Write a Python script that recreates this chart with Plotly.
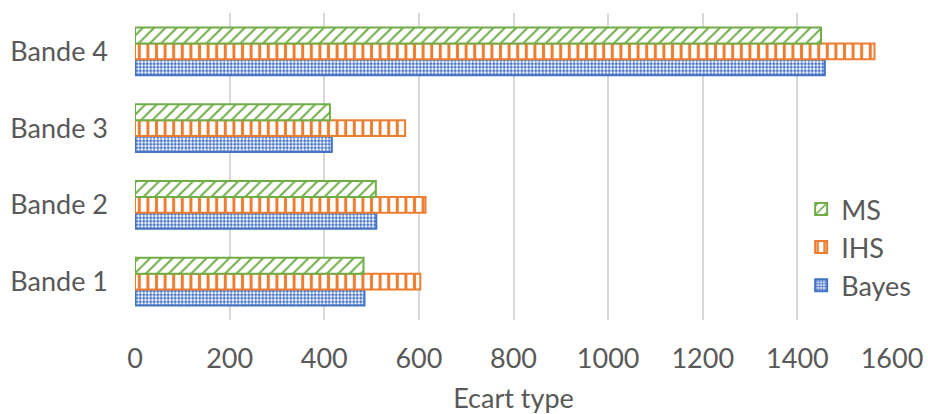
import plotly.graph_objects as go

categories = ["Bande 1", "Bande 2", "Bande 3", "Bande 4"]
bayes = [485, 510, 416, 1458]
ihs = [603, 614, 571, 1563]
ms = [483, 509, 412, 1450]

text_color = "#595959"
font_family = "Lato, 'Open Sans', sans-serif"
fs = 27

fig = go.Figure()

fig.add_trace(go.Bar(
    y=categories, x=bayes, name="Bayes", orientation="h",
    marker=dict(
        color="white",
        line=dict(color="#4472C4", width=2),
        pattern=dict(shape=".", fgcolor="#4472C4", bgcolor="white",
                     size=3.5, solidity=0.55, fillmode="replace"),
    ),
))
fig.add_trace(go.Bar(
    y=categories, x=ihs, name="IHS", orientation="h",
    marker=dict(
        color="white",
        line=dict(color="#ED7D31", width=2),
        pattern=dict(shape="|", fgcolor="#ED7D31", bgcolor="white",
                     size=8.6, solidity=0.35, fillmode="replace"),
    ),
))
fig.add_trace(go.Bar(
    y=categories, x=ms, name="MS", orientation="h",
    marker=dict(
        color="white",
        line=dict(color="#70AD47", width=2),
        pattern=dict(shape="/", fgcolor="#70AD47", bgcolor="white",
                     size=8, solidity=0.25, fillmode="replace"),
    ),
))

fig.update_layout(
    width=928, height=414,
    margin=dict(l=135, r=31, t=13, b=94),
    paper_bgcolor="white", plot_bgcolor="white",
    barmode="group", bargap=0.38, bargroupgap=0,
    font=dict(family=font_family, size=fs, color=text_color),
    legend=dict(
        x=0.88, y=0.44, xanchor="left", yanchor="top",
        traceorder="reversed", bgcolor="rgba(0,0,0,0)",
        font=dict(size=fs, color=text_color),
        itemwidth=30, tracegroupgap=0,
    ),
    xaxis=dict(
        range=[0, 1600], dtick=200, tick0=0, automargin=False,
        showgrid=True, gridcolor="#D9D9D9", gridwidth=1.5,
        zeroline=False, showline=False,
        ticks="", ticklabelstandoff=20,
        tickfont=dict(size=fs, color=text_color),
        title=dict(text="Ecart type", standoff=16,
                   font=dict(size=fs, color=text_color)),
    ),
    yaxis=dict(
        showgrid=False, zeroline=False, showline=False, automargin=False,
        ticks="", ticklabelstandoff=26,
        tickfont=dict(size=fs, color=text_color),
    ),
)

fig.write_html("out.html")
